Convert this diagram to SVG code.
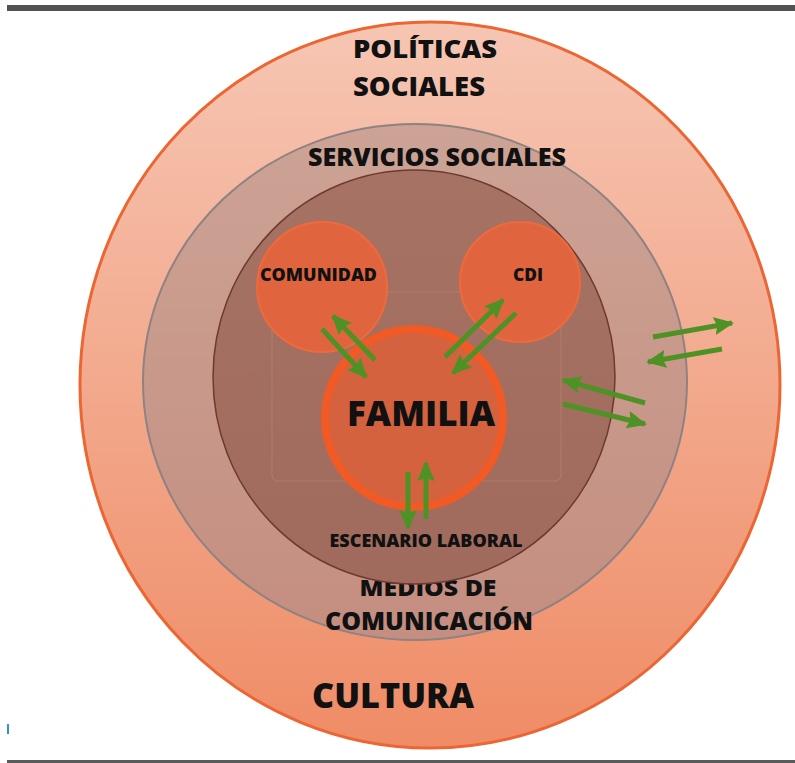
<svg xmlns="http://www.w3.org/2000/svg" width="795" height="763" viewBox="0 0 795 763">
<defs>
<linearGradient id="gOuter" x1="0" y1="0" x2="0" y2="1">
<stop offset="0" stop-color="#f6c6b3"/>
<stop offset="1" stop-color="#ef8c66"/>
</linearGradient>
<linearGradient id="gMid" x1="0" y1="0" x2="0" y2="1">
<stop offset="0" stop-color="#cca395"/>
<stop offset="1" stop-color="#c48e80"/>
</linearGradient>
<linearGradient id="gIn" x1="0" y1="0" x2="0" y2="1">
<stop offset="0" stop-color="#a67263"/>
<stop offset="1" stop-color="#a06b5c"/>
</linearGradient>
<marker id="ah" viewBox="0 0 20 18" refX="18" refY="9" markerWidth="20" markerHeight="18" orient="auto" markerUnits="userSpaceOnUse">
<path d="M0,0 L20,9 L0,18 L3,9 Z" fill="#4e9226"/>
</marker>
</defs>
<style>
.t{font-family:"Open Sans","Liberation Sans",sans-serif;font-weight:800;fill:#111;text-anchor:middle}
.ar{stroke:#4e9226;stroke-width:5;fill:none;marker-end:url(#ah)}
</style>
<rect x="0" y="0" width="795" height="763" fill="#ffffff"/>
<rect x="7" y="5" width="788" height="6" fill="#525252"/>
<rect x="7" y="760" width="788" height="3" fill="#5a5a5a"/>
<rect x="7" y="724" width="2" height="10" fill="#3a8fd0"/>

<g id="politicas">
<ellipse cx="430" cy="385" rx="350" ry="363" fill="url(#gOuter)" stroke="#ec6634" stroke-width="3"/>
<text class="t" x="425" y="58" font-size="25" textLength="144" lengthAdjust="spacingAndGlyphs">POLÍTICAS</text>
<text class="t" x="419" y="96" font-size="26" textLength="132" lengthAdjust="spacingAndGlyphs">SOCIALES</text>
<text class="t" x="393" y="708" font-size="35" textLength="162" lengthAdjust="spacingAndGlyphs">CULTURA</text>
</g>
<g id="servicios">
<ellipse cx="415" cy="382" rx="272" ry="258" fill="url(#gMid)" stroke="#8e8283" stroke-width="2"/>
<text class="t" x="437" y="166" font-size="25" textLength="258" lengthAdjust="spacingAndGlyphs">SERVICIOS SOCIALES</text>
<text class="t" x="428" y="596" font-size="23" textLength="137" lengthAdjust="spacingAndGlyphs">MEDIOS DE</text>
<text class="t" x="429" y="630" font-size="24" textLength="208" lengthAdjust="spacingAndGlyphs">COMUNICACIÓN</text>
</g>
<g id="escenario">
<ellipse cx="414" cy="377" rx="201" ry="207" fill="url(#gIn)" stroke="#6e3a30" stroke-width="1.5"/>
<rect x="272" y="292" width="289" height="189" rx="6" fill="none" stroke="#b48474" stroke-width="1" opacity="0.7"/>
<text class="t" x="426" y="547" font-size="18" textLength="193" lengthAdjust="spacingAndGlyphs">ESCENARIO LABORAL</text>
</g>
<g id="comunidad">
<circle cx="322" cy="287" r="65" fill="#e0653f" stroke="#ee6a3c" stroke-width="2"/>
<text class="t" x="318.5" y="281" font-size="18" textLength="117" lengthAdjust="spacingAndGlyphs">COMUNIDAD</text>
</g>
<g id="cdi">
<circle cx="520" cy="282" r="60" fill="#e0653f" stroke="#ee6a3c" stroke-width="2"/>
<text class="t" x="528" y="281" font-size="18" textLength="30" lengthAdjust="spacingAndGlyphs">CDI</text>
</g>
<g id="familia">
<circle cx="414" cy="418" r="89" fill="#d4623f" stroke="#f15a24" stroke-width="8"/>
<text class="t" x="421" y="426" font-size="36" textLength="148" lengthAdjust="spacingAndGlyphs">FAMILIA</text>
</g>
<g id="connectors">
<line class="ar" x1="322" y1="329" x2="366" y2="377"/>
<line class="ar" x1="375" y1="360" x2="333" y2="316"/>
<line class="ar" x1="445" y1="357" x2="503" y2="300"/>
<line class="ar" x1="516" y1="313" x2="453" y2="373"/>
<line class="ar" x1="408" y1="472" x2="408" y2="528"/>
<line class="ar" x1="426" y1="519" x2="426" y2="463"/>
<line class="ar" x1="653" y1="337" x2="732" y2="323"/>
<line class="ar" x1="722" y1="349" x2="648" y2="362"/>
<line class="ar" x1="645" y1="403" x2="563" y2="380"/>
<line class="ar" x1="563" y1="404" x2="645" y2="424"/>
</g>
</svg>
